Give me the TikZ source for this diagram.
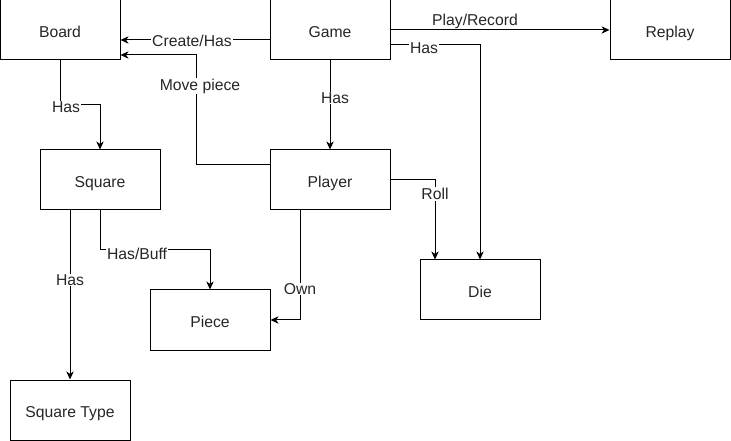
\documentclass[tikz,border=0pt]{standalone}
\usepackage{fontspec}
\setmainfont{Liberation Sans}
\usetikzlibrary{arrows.meta}
\definecolor{txt}{HTML}{262626}
\begin{document}
\begin{tikzpicture}[x=0.75pt,y=-0.75pt,
  box/.style={draw=black,line width=0.75pt,minimum width=90pt,minimum height=45pt,inner sep=0pt,text height=12pt,text depth=1pt,font=\fontsize{11.8}{13}\selectfont,text=txt},
  conn/.style={draw=black,line width=0.75pt,-{Stealth[length=6pt,width=5.5pt,inset=1.8pt]}},
  lbl/.style={fill=white,inner sep=0.6pt,font=\fontsize{11.8}{13}\selectfont,text=txt}]
\useasboundingbox (0,0) rectangle (731,441);
\node[box] (board) at (60,30) {Board};
\node[box] (game) at (330,30) {Game};
\node[box] (replay) at (670,30) {Replay};
\node[box] (square) at (100,180) {Square};
\node[box] (player) at (330,180) {Player};
\node[box] (die) at (480,290) {Die};
\node[box] (piece) at (210,320) {Piece};
\node[box] (stype) at (70,410) {Square Type};
% Game -> Board
\draw[conn] (game.west |- 0,40) -- (board.east |- 0,40);
\node[lbl] (l1) at (192,41) {Create/Has};
% Game -> Replay
\draw[conn] (game.east |- 0,30) -- (replay.west |- 0,30);
\node[lbl] (l2) at (475,21) {Play/Record};
% Game -> Die
\draw[conn] (game.east |- 0,45) -| (die.north -| 480,0);
\node[lbl] (l3) at (424,48) {Has};
% Game -> Player
\draw[conn] (game.south) -- (player.north);
\node[lbl] (l4) at (335,98) {Has};
% Player -> Board
\draw[conn] (player.west |- 0,165) -- (196,165) -- (196,55) -- (board.east |- 0,55);
\node[lbl] (l5) at (200,86) {Move piece};
% Board -> Square
\draw[conn] (board.south) -- (60,105) -- (100,105) -- (square.north);
\node[lbl] (l6) at (66,107) {Has};
% Square -> Square Type
\draw[conn] (square.south -| 70,0) -- (stype.north -| 70,0);
\node[lbl] (l7) at (70,280) {Has};
% Square -> Piece
\draw[conn] (square.south) -- (100,250) -- (210,250) -- (piece.north);
\node[lbl,anchor=west] (l8) at (106,254) {Has/Buff};
% Player -> Piece
\draw[conn] (player.south -| 300,0) -- (300,320) -- (piece.east);
\node[lbl] (l9) at (300,289) {Own};
% Player -> Die
\draw[conn] (player.east |- 0,180) -- (435,180) -- (die.north -| 435,0);
\node[lbl] (l10) at (435,194) {Roll};
\end{tikzpicture}
\end{document}
